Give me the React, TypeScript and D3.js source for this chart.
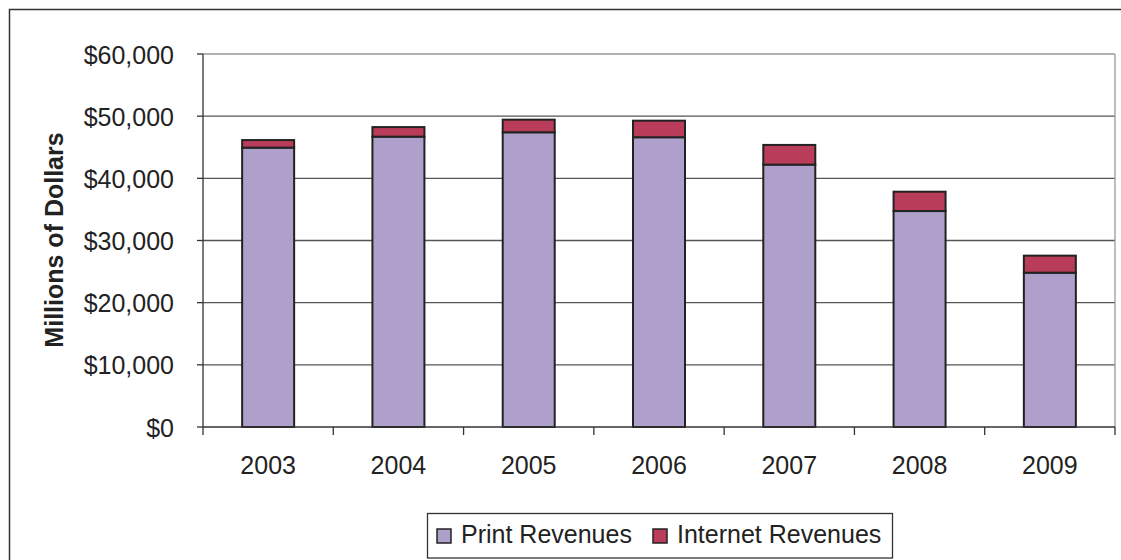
import React from "react";
import * as d3 from "d3";

const years = ["2003", "2004", "2005", "2006", "2007", "2008", "2009"];
const printRevenues = [44939, 46703, 47408, 46611, 42209, 34740, 24821];
const internetRevenues = [1216, 1541, 2027, 2664, 3166, 3109, 2743];
const yTicks = [0, 10000, 20000, 30000, 40000, 50000, 60000];
const seriesNames = ["Print Revenues", "Internet Revenues"];
const colors = ["#AFA0CB", "#B93C5A"];

export default function App() {
  const W = 1121, H = 560;
  const left = 203, right = 1115, top = 54, bottom = 427;
  const xb = d3.scaleBand().domain(years).range([left, right]);
  const y = d3.scaleLinear().domain([0, 60000]).range([bottom, top]);
  const fmt = (v: number) => "$" + d3.format(",")(v);
  const font = "'Liberation Sans', Arial, sans-serif";
  const bw = 52;
  const fs = 25;
  return (
    <svg width={W} height={H} style={{ position: "absolute", left: 0, top: 0, background: "#fff" }} fontFamily={font}>
      <rect x={9.5} y={9.5} width={1125} height={560} fill="none" stroke="#333" strokeWidth={1.5} />
      {yTicks.filter(t => t > 0 && t < 60000).map(t => (
        <line key={t} x1={left} x2={right} y1={y(t)} y2={y(t)} stroke="#555" strokeWidth={1.3} />
      ))}
      <line x1={left} x2={right} y1={top} y2={top} stroke="#999" strokeWidth={1.3} />
      <line x1={right} x2={right} y1={top} y2={bottom} stroke="#999" strokeWidth={1.3} />
      {years.map((yr, i) => {
        const cx = (xb(yr) as number) + xb.bandwidth() / 2;
        const p = printRevenues[i], n = internetRevenues[i];
        return (
          <g key={yr}>
            <rect x={cx - bw / 2} y={y(p)} width={bw} height={y(0) - y(p)} fill={colors[0]} stroke="#222" strokeWidth={2} />
            <rect x={cx - bw / 2} y={y(p + n)} width={bw} height={y(p) - y(p + n)} fill={colors[1]} stroke="#222" strokeWidth={2} />
            <text x={cx} y={474} textAnchor="middle" fontSize={fs} fill="#222">{yr}</text>
          </g>
        );
      })}
      <line x1={left} x2={left} y1={top} y2={bottom} stroke="#333" strokeWidth={1.3} />
      <line x1={left} x2={right} y1={bottom} y2={bottom} stroke="#333" strokeWidth={1.3} />
      {yTicks.map(t => (
        <g key={t}>
          <line x1={left - 6} x2={left} y1={y(t)} y2={y(t)} stroke="#333" strokeWidth={1.3} />
          <text x={174} y={y(t) + 9.5} textAnchor="end" fontSize={fs} fill="#222">{fmt(t)}</text>
        </g>
      ))}
      {d3.range(years.length + 1).map(i => {
        const xx = left + i * xb.step();
        return <line key={i} x1={xx} x2={xx} y1={bottom} y2={bottom + 8} stroke="#333" strokeWidth={1.3} />;
      })}
      <text transform={`translate(63,240) rotate(-90)`} textAnchor="middle" fontSize={25} fontWeight="bold" fill="#222">Millions of Dollars</text>
      <rect x={427.5} y={513.5} width={465} height={44.5} fill="#fff" stroke="#333" strokeWidth={1.3} />
      {seriesNames.map((s, i) => {
        const lx = i === 0 ? 437 : 653;
        return (
          <g key={s}>
            <rect x={lx} y={529} width={14} height={14} fill={colors[i]} stroke="#222" strokeWidth={1.5} />
            <text x={lx + 24} y={543.3} fontSize={fs} fill="#222">{s}</text>
          </g>
        );
      })}
    </svg>
  );
}
